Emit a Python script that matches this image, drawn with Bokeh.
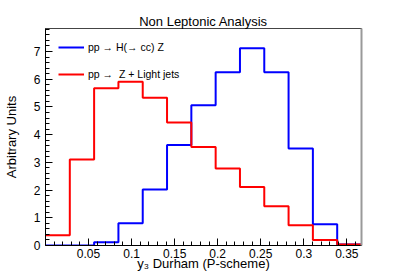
import numpy as np
from bokeh.plotting import figure
from bokeh.models import Range1d, FixedTicker, Legend, LegendItem, LinearAxis, Title
from bokeh.embed import file_html
from bokeh.resources import INLINE

# ---- data ----
x_min = 0.0
x_max = 0.367
n_bins = 13
signal_label = "pp \u2192 H(\u2192 cc) Z"
background_label = "pp \u2192  Z + Light jets"
signal_values = [0.0, 0.0, 0.12, 0.80, 2.02, 3.63, 5.06, 6.25, 7.12, 6.25, 3.50, 0.77, 0.04]
background_values = [0.37, 3.10, 5.67, 5.91, 5.33, 4.44, 3.55, 2.78, 2.11, 1.42, 0.73, 0.20, 0.04]
x_ticks = [0.05, 0.10, 0.15, 0.20, 0.25, 0.30, 0.35]
x_tick_labels = ["0.05", "0.1", "0.15", "0.2", "0.25", "0.3", "0.35"]
y_ticks = [0, 1, 2, 3, 4, 5, 6, 7]
y_max = 7.83
title_text = "Non Leptonic Analysis"
x_title = "y\u2083 Durham (P-scheme)"
y_title = "Arbitrary Units"

FONT = "Liberation Sans"

edges = np.linspace(x_min, x_max, n_bins + 1)


def step_xy(vals):
    xs = np.repeat(edges, 2)[1:-1]
    ys = np.repeat(np.asarray(vals, dtype=float), 2)
    return xs, ys


p = figure(width=401, height=273, output_backend="svg", toolbar_location=None,
           x_range=Range1d(x_min, x_max), y_range=Range1d(0, y_max),
           min_border_left=40, min_border_right=40, min_border_top=28, min_border_bottom=27,
           background_fill_color="white", border_fill_color="white")
p.title = Title(text=title_text, align="center", text_font=FONT, text_font_size="13px",
                text_font_style="normal", text_color="black", standoff=0)
p.grid.visible = False
p.outline_line_color = "#444444"
p.outline_line_width = 1

sx, sy = step_xy(signal_values)
bx, by = step_xy(background_values)
r_sig = p.line(sx, sy, line_color="#0000ff", line_width=2)
r_bkg = p.line(bx, by, line_color="#ff0000", line_width=2)

# x axis
xa = p.xaxis[0]
xa.ticker = FixedTicker(ticks=x_ticks, minor_ticks=list(np.round(np.arange(0.01, 0.365, 0.01), 3)))
xa.major_label_overrides = {t: l for t, l in zip(x_ticks, x_tick_labels)}
xa.major_tick_in = 7
xa.major_tick_out = 0
xa.minor_tick_in = 4
xa.minor_tick_out = 0
xa.major_label_standoff = 3
xa.major_label_text_font = FONT
xa.major_label_text_font_size = "12px"
xa.major_label_text_color = "black"
xa.axis_line_color = "black"
xa.major_tick_line_color = "black"
xa.minor_tick_line_color = "black"
xa.axis_label = x_title
xa.axis_label_text_font = FONT
xa.axis_label_text_font_size = "13px"
xa.axis_label_text_font_style = "normal"
xa.axis_label_text_color = "black"
xa.axis_label_standoff = -5

# y axis
ya = p.yaxis[0]
ya.ticker = FixedTicker(ticks=y_ticks, minor_ticks=list(np.round(np.arange(0.2, 7.81, 0.2), 2)))
ya.major_tick_in = 7
ya.major_tick_out = 0
ya.minor_tick_in = 4
ya.minor_tick_out = 0
ya.major_label_standoff = 5
ya.major_label_text_font = FONT
ya.major_label_text_font_size = "12px"
ya.major_label_text_color = "black"
ya.axis_line_color = "black"
ya.major_tick_line_color = "black"
ya.minor_tick_line_color = "black"
ya.axis_label = y_title
ya.axis_label_text_font = FONT
ya.axis_label_text_font_size = "13px"
ya.axis_label_text_font_style = "normal"
ya.axis_label_text_color = "black"
ya.axis_label_standoff = 12

# right frame edge (grey)
ra = LinearAxis(major_tick_line_color=None, minor_tick_line_color=None,
                major_label_text_font_size="0px", axis_line_color="#999999", axis_line_width=2)
ra.ticker = FixedTicker(ticks=[])
p.add_layout(ra, "right")

legend = Legend(items=[LegendItem(label=signal_label, renderers=[r_sig]),
                       LegendItem(label=background_label, renderers=[r_bkg])],
                location=(13, 161), padding=0, margin=0, spacing=7,
                glyph_width=26, glyph_height=20, label_height=20, label_standoff=4,
                label_text_font=FONT, label_text_font_size="10.5px", label_text_color="black",
                border_line_alpha=0, background_fill_alpha=0)
p.add_layout(legend)

open("out.html", "w").write(file_html(p, INLINE))
